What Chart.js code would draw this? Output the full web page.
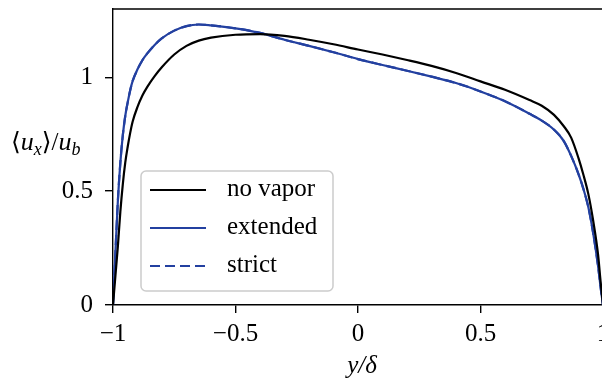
<!DOCTYPE html>
<html>
<head>
<meta charset="utf-8">
<script src="https://cdn.jsdelivr.net/npm/chart.js@4"></script>
<style>
  html, body { margin: 0; padding: 0; background: #fff; overflow: hidden; }
  #wrap { width: 602px; height: 379px; overflow: hidden; }
</style>
</head>
<body>
<div id="wrap"><canvas id="c" width="610" height="379"></canvas></div>
<script>
// wall-normal positions y/delta
const yPos = [-1, -0.99, -0.98, -0.97, -0.96, -0.95, -0.94, -0.93, -0.92, -0.9, -0.88, -0.86, -0.83, -0.8,
  -0.75, -0.7, -0.65, -0.6, -0.5, -0.4, -0.3, -0.2, -0.1, 0, 0.1, 0.2, 0.3, 0.4, 0.5, 0.6, 0.7,
  0.75, 0.8, 0.84, 0.87, 0.9, 0.92, 0.94, 0.96, 0.98, 0.99, 1];

// mean streamwise velocity <u_x>/u_b
const noVapor = [0, 0.13, 0.26, 0.41, 0.53, 0.625, 0.695, 0.755, 0.805, 0.87, 0.92, 0.958, 1.005, 1.045,
  1.1, 1.138, 1.161, 1.174, 1.187, 1.19, 1.182, 1.165, 1.145, 1.122, 1.10, 1.076, 1.05, 1.019, 0.982, 0.945, 0.90,
  0.875, 0.835, 0.785, 0.735, 0.645, 0.572, 0.488, 0.37, 0.22, 0.105, 0];
const extended = [0, 0.235, 0.46, 0.625, 0.745, 0.83, 0.89, 0.942, 0.983, 1.035, 1.075, 1.105, 1.142, 1.172,
  1.205, 1.225, 1.232, 1.228, 1.215, 1.195, 1.165, 1.138, 1.11, 1.08, 1.054, 1.029, 1.003, 0.975, 0.938, 0.895, 0.84,
  0.81, 0.77, 0.72, 0.655, 0.575, 0.51, 0.43, 0.315, 0.17, 0.08, 0];
const strict = [0, 0.235, 0.46, 0.625, 0.745, 0.83, 0.89, 0.942, 0.983, 1.035, 1.075, 1.105, 1.142, 1.172,
  1.205, 1.225, 1.232, 1.228, 1.215, 1.195, 1.165, 1.138, 1.11, 1.08, 1.054, 1.029, 1.003, 0.975, 0.938, 0.895, 0.84,
  0.81, 0.77, 0.72, 0.655, 0.575, 0.51, 0.43, 0.315, 0.17, 0.08, 0];

const xTicks = [-1, -0.5, 0, 0.5, 1];
const yTicks = [0, 0.5, 1];

const BLUE = '#2340a0';
const SERIF = '"Liberation Serif", "DejaVu Serif", serif';

function pts(vals) {
  return yPos.map((x, i) => ({ x: x, y: vals[i] }));
}
function fmt(v) {
  return v < 0 ? '\u2212' + String(-v) : String(v);
}

// frame on top + right, legend box, axis titles
const extras = {
  id: 'extras',
  afterDatasetsDraw(chart) {
    const ctx = chart.ctx, a = chart.chartArea;
    ctx.save();
    ctx.strokeStyle = '#000';
    ctx.lineWidth = 1.4;
    ctx.beginPath();
    ctx.moveTo(a.left, a.top);
    ctx.lineTo(a.right, a.top);
    ctx.lineTo(a.right, a.bottom);
    ctx.stroke();

    // legend
    const bx = 141, by = 171, bw = 192, bh = 120;
    ctx.fillStyle = 'rgba(255,255,255,0.85)';
    ctx.strokeStyle = '#cccccc';
    ctx.lineWidth = 1.5;
    ctx.beginPath();
    ctx.roundRect(bx, by, bw, bh, 5);
    ctx.fill();
    ctx.stroke();
    const rows = [190, 228, 266];
    chart.data.datasets.forEach((ds, i) => {
      ctx.strokeStyle = ds.borderColor;
      ctx.lineWidth = ds.borderWidth;
      ctx.setLineDash(ds.borderDash || []);
      ctx.beginPath();
      ctx.moveTo(150, rows[i]);
      ctx.lineTo(206, rows[i]);
      ctx.stroke();
      ctx.setLineDash([]);
      ctx.fillStyle = '#000';
      ctx.font = '25px ' + SERIF;
      ctx.textBaseline = 'middle';
      ctx.textAlign = 'left';
      ctx.fillText(ds.label, 227, rows[i] - 1);
    });

    // y title: <u_x>/u_b
    ctx.fillStyle = '#000';
    ctx.textBaseline = 'alphabetic';
    let x = 11, base = 150;
    const part = (t, font, dy) => {
      ctx.font = font;
      ctx.fillText(t, x, base + (dy || 0));
      x += ctx.measureText(t).width;
    };
    part('\u27E8', '25px ' + SERIF);
    part('u', 'italic 26px ' + SERIF);
    part('x', 'italic 18px ' + SERIF, 5);
    part('\u27E9', '25px ' + SERIF);
    part('/', '25px ' + SERIF);
    part('u', 'italic 26px ' + SERIF);
    part('b', 'italic 18px ' + SERIF, 5);

    // x title: y/delta
    ctx.font = 'italic 25px ' + SERIF;
    ctx.textAlign = 'center';
    ctx.fillText('y/\u03B4', 362, 373);
    ctx.restore();
  }
};

new Chart(document.getElementById('c'), {
  type: 'line',
  data: {
    datasets: [
      { label: 'no vapor', data: pts(noVapor), borderColor: '#000000', borderWidth: 2.2 },
      { label: 'extended', data: pts(extended), borderColor: BLUE, borderWidth: 2.2 },
      { label: 'strict', data: pts(strict), borderColor: BLUE, borderWidth: 2.2, borderDash: [10, 5] }
    ]
  },
  options: {
    responsive: false,
    animation: false,
    layout: { padding: { left: 0, top: 9, right: 7, bottom: 0 } },
    elements: {
      point: { radius: 0 },
      line: { cubicInterpolationMode: 'monotone', fill: false }
    },
    plugins: { legend: { display: false }, tooltip: { enabled: false } },
    scales: {
      x: {
        type: 'linear', min: -1, max: 1,
        afterBuildTicks: s => { s.ticks = xTicks.map(v => ({ value: v })); },
        afterFit: s => { s.height = 74; s.paddingLeft = 0; s.paddingRight = 0; },
        ticks: { color: '#000', font: { family: SERIF, size: 25 }, padding: 6,
          maxRotation: 0, callback: v => fmt(v) },
        grid: { display: true, drawOnChartArea: false, drawTicks: true, tickLength: 8, color: '#000', lineWidth: 1.4 },
        border: { display: true, color: '#000', width: 1.4 }
      },
      y: {
        type: 'linear', min: 0, max: 1.3,
        afterBuildTicks: s => { s.ticks = yTicks.map(v => ({ value: v })); },
        afterFit: s => { s.width = 113; s.paddingTop = 0; s.paddingBottom = 0; },
        ticks: { color: '#000', font: { family: SERIF, size: 25 }, padding: 12, callback: v => fmt(v) },
        grid: { display: true, drawOnChartArea: false, drawTicks: true, tickLength: 8, color: '#000', lineWidth: 1.4 },
        border: { display: true, color: '#000', width: 1.4 }
      }
    }
  },
  plugins: [extras]
});
</script>
</body>
</html>
